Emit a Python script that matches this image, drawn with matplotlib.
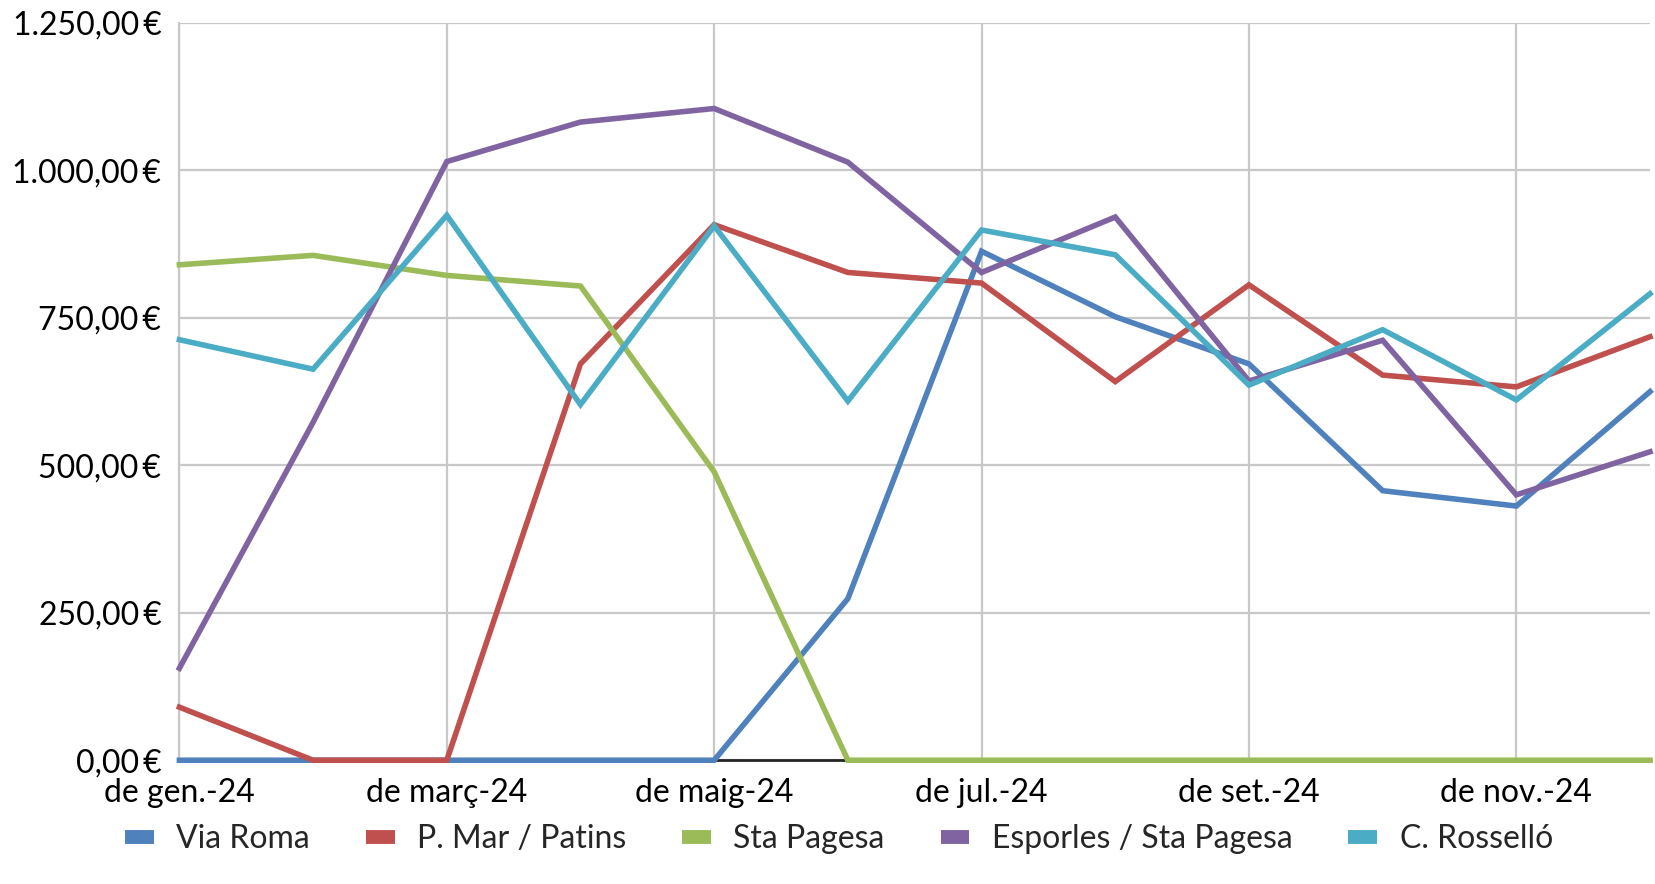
import matplotlib
matplotlib.use("Agg")
import matplotlib.pyplot as plt
from matplotlib.lines import Line2D
from matplotlib.ticker import FuncFormatter, MultipleLocator

months = ["de gen.-24", "de febr.-24", "de març-24", "de abr.-24", "de maig-24", "de juny-24",
          "de jul.-24", "de ag.-24", "de set.-24", "de oct.-24", "de nov.-24", "de des.-24"]

via_roma = [0, 0, 0, 0, 0, 274, 863, 752, 672, 457, 431, 625]
p_mar_patins = [90, 0, 0, 672, 908, 827, 809, 642, 806, 653, 633, 718]
sta_pagesa = [840, 856, 822, 804, 489, 0, 0, 0, 0, 0, 0, 0]
esporles = [156, 573, 1015, 1082, 1105, 1014, 827, 921, 643, 712, 450, 523]
rossello = [713, 663, 924, 603, 906, 609, 899, 857, 636, 730, 611, 791]

series = [
    ("Via Roma", via_roma, "#4F81BD"),
    ("P. Mar / Patins", p_mar_patins, "#C0504D"),
    ("Sta Pagesa", sta_pagesa, "#9BBB59"),
    ("Esporles / Sta Pagesa", esporles, "#8064A2"),
    ("C. Rosselló", rossello, "#4BACC6"),
]

plt.rcParams["font.family"] = ["Lato", "DejaVu Sans"]

fig = plt.figure(figsize=(16.55, 8.84), dpi=100)
ax = fig.add_axes([0.1084, 0.140, 0.8886, 0.834])

x = list(range(len(months)))
for name, vals, color in series:
    ax.plot(x, vals, color=color, lw=4, label=name, clip_on=False, zorder=3,
            solid_joinstyle="miter")

ax.set_xlim(0, len(months) - 1)
ax.set_ylim(0, 1250)
ax.yaxis.set_major_locator(MultipleLocator(250))
ax.set_xticks(x[::2])
ax.set_xticklabels(months[::2])


def euro(v, pos):
    s = f"{v:,.2f}".replace(",", "X").replace(".", ",").replace("X", ".")
    return s + "\u2009€"


ax.yaxis.set_major_formatter(FuncFormatter(euro))
ax.grid(True, color="#C8C8C8", lw=1.6, zorder=0)
ax.set_axisbelow(True)
for side in ["top", "right"]:
    ax.spines[side].set_visible(False)
ax.spines["left"].set_color("#C8C8C8")
ax.spines["left"].set_linewidth(1.6)
ax.spines["bottom"].set_color("#262626")
ax.spines["bottom"].set_linewidth(2)
ax.spines["bottom"].set_zorder(2)
ax.tick_params(length=0, labelsize=23, colors="black")
ax.tick_params(axis="y", pad=13)
ax.tick_params(axis="x", pad=13)

handles = [Line2D([], [], color=c, lw=10, solid_capstyle="butt") for _, _, c in series]
fig.legend(handles, [n for n, _, _ in series], loc="center", bbox_to_anchor=(0.507, 0.051),
           ncol=5, frameon=False, fontsize=23, handlelength=0.9, handletextpad=0.7,
           columnspacing=1.75, labelcolor="#262626")

fig.savefig("out.png", dpi=100)
